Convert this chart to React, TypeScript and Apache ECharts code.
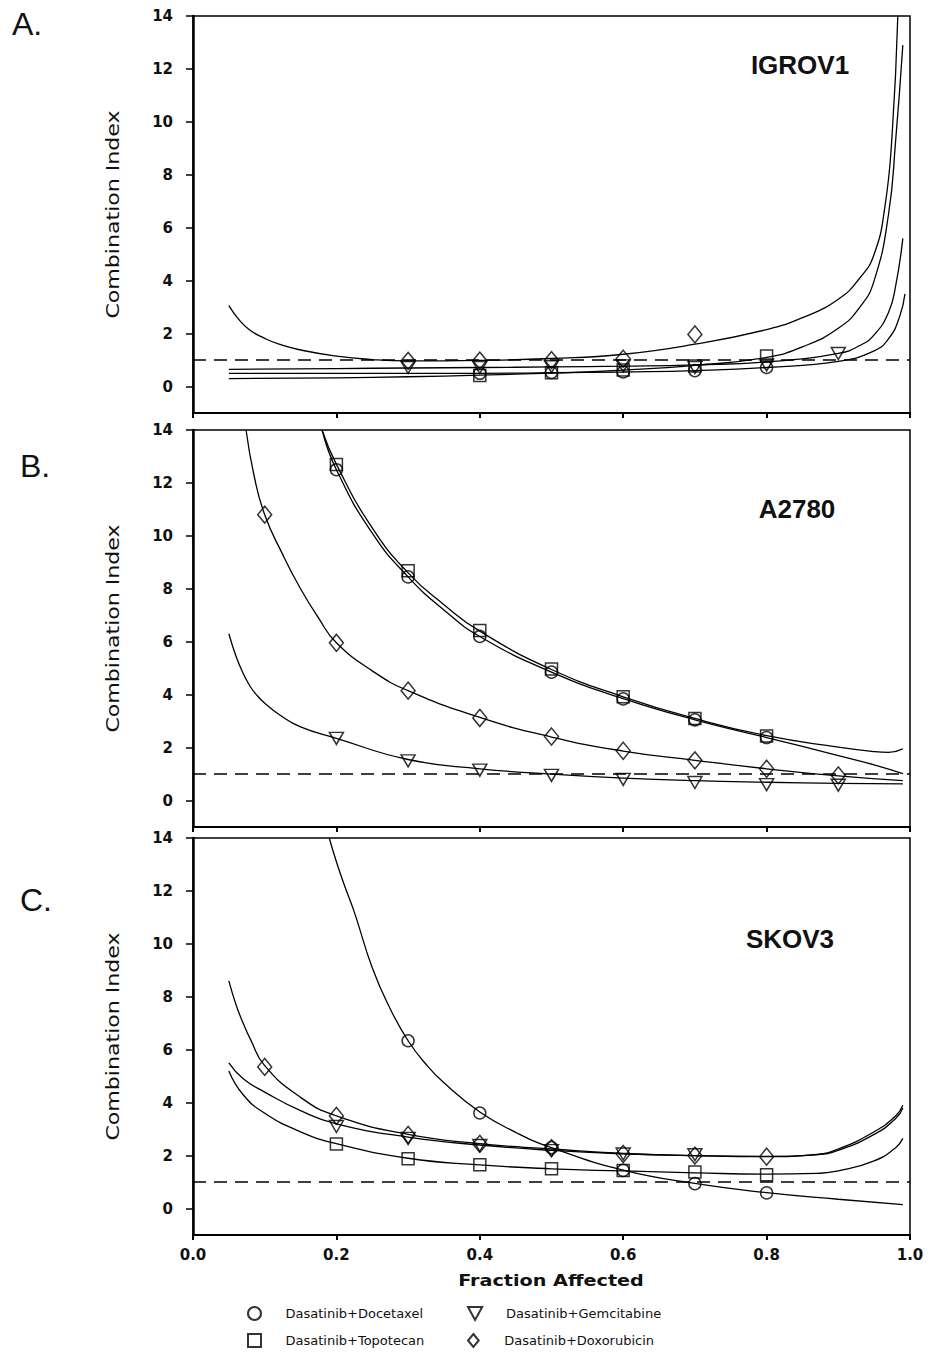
import React, { useEffect, useRef } from "react";
import * as echarts from "echarts";

// ---------- data ----------
const panelNames = ["IGROV1", "A2780", "SKOV3"];
const panelLetters = ["A.", "B.", "C."];
const drugNames = [
  "Dasatinib+Docetaxel",
  "Dasatinib+Topotecan",
  "Dasatinib+Gemcitabine",
  "Dasatinib+Doxorubicin",
];
const yTicks = [0, 2, 4, 6, 8, 10, 12, 14];
const additivityCI = 1;
const xAxisTitle = "Fraction Affected";
const yAxisTitle = "Combination Index";

// Panel A: IGROV1 (fraction affected, CI)
const aDocePts = [[0.4, 0.5], [0.5, 0.53], [0.6, 0.55], [0.7, 0.6], [0.8, 0.72]];
const aTopoPts = [[0.4, 0.42], [0.5, 0.52], [0.6, 0.62], [0.7, 0.78], [0.8, 1.15]];
const aGemPts = [[0.3, 0.72], [0.4, 0.72], [0.5, 0.75], [0.6, 0.78], [0.7, 0.72], [0.8, 0.82], [0.9, 1.25]];
const aDoxoPts = [[0.3, 0.97], [0.4, 0.98], [0.5, 1.0], [0.6, 1.05], [0.7, 1.97]];
const aDoceCurve = [[0.05, 0.5], [0.2, 0.5], [0.3, 0.5], [0.4, 0.5], [0.5, 0.52], [0.6, 0.55], [0.7, 0.6], [0.8, 0.72], [0.9, 0.95], [0.95, 1.35], [0.97, 1.8], [0.985, 2.6], [0.993, 3.5]];
const aTopoCurve = [[0.05, 0.3], [0.2, 0.33], [0.3, 0.37], [0.4, 0.43], [0.5, 0.51], [0.6, 0.62], [0.7, 0.8], [0.8, 1.1], [0.85, 1.5], [0.9, 2.2], [0.93, 3.0], [0.95, 4.0], [0.97, 6.5], [0.98, 9.3], [0.99, 12.9]];
const aGemCurve = [[0.05, 0.65], [0.2, 0.68], [0.3, 0.7], [0.4, 0.72], [0.5, 0.74], [0.6, 0.77], [0.7, 0.82], [0.8, 0.93], [0.9, 1.25], [0.93, 1.55], [0.95, 1.95], [0.97, 2.8], [0.98, 3.8], [0.99, 5.6]];
const aDoxoCurve = [[0.05, 3.06], [0.065, 2.5], [0.08, 2.12], [0.1, 1.82], [0.12, 1.6], [0.15, 1.38], [0.2, 1.15], [0.25, 1.02], [0.3, 0.97], [0.4, 0.99], [0.5, 1.06], [0.6, 1.22], [0.7, 1.6], [0.8, 2.15], [0.85, 2.6], [0.9, 3.3], [0.93, 4.1], [0.95, 5.0], [0.965, 6.8], [0.975, 9.5], [0.983, 14]];

// Panel B: A2780
const bDocePts = [[0.2, 12.5], [0.3, 8.45], [0.4, 6.2], [0.5, 4.85], [0.6, 3.84], [0.7, 3.05], [0.8, 2.38]];
const bTopoPts = [[0.2, 12.7], [0.3, 8.68], [0.4, 6.42], [0.5, 4.97], [0.6, 3.92], [0.7, 3.1], [0.8, 2.44]];
const bGemPts = [[0.2, 2.35], [0.3, 1.5], [0.4, 1.15], [0.5, 0.95], [0.6, 0.8], [0.7, 0.68], [0.8, 0.6], [0.9, 0.58]];
const bDoxoPts = [[0.1, 10.8], [0.2, 5.96], [0.3, 4.15], [0.4, 3.12], [0.5, 2.42], [0.6, 1.88], [0.7, 1.52], [0.8, 1.2], [0.9, 0.95]];
const bDoceCurve = [[0.18, 14], [0.2, 12.5], [0.25, 10.1], [0.3, 8.45], [0.35, 7.2], [0.4, 6.2], [0.5, 4.85], [0.6, 3.85], [0.7, 3.05], [0.8, 2.38], [0.9, 1.7], [0.95, 1.35], [0.99, 1.02]];
const bTopoCurve = [[0.18, 14], [0.2, 12.7], [0.25, 10.3], [0.3, 8.6], [0.35, 7.4], [0.4, 6.4], [0.5, 4.95], [0.6, 3.92], [0.7, 3.1], [0.8, 2.45], [0.9, 2.02], [0.95, 1.85], [0.97, 1.82], [0.99, 1.95]];
const bGemCurve = [[0.05, 6.3], [0.06, 5.45], [0.07, 4.8], [0.08, 4.3], [0.09, 3.95], [0.1, 3.68], [0.12, 3.25], [0.15, 2.78], [0.2, 2.35], [0.3, 1.55], [0.4, 1.2], [0.5, 1.0], [0.6, 0.85], [0.7, 0.75], [0.8, 0.69], [0.9, 0.65], [0.99, 0.63]];
const bDoxoCurve = [[0.074, 14], [0.085, 12.3], [0.1, 10.8], [0.125, 9.3], [0.15, 8.0], [0.175, 6.9], [0.2, 5.96], [0.25, 4.9], [0.3, 4.15], [0.4, 3.14], [0.5, 2.4], [0.6, 1.87], [0.7, 1.52], [0.8, 1.2], [0.9, 0.93], [0.99, 0.75]];

// Panel C: SKOV3
const cDocePts = [[0.3, 6.34], [0.4, 3.61], [0.5, 2.3], [0.6, 1.44], [0.7, 0.94], [0.8, 0.59]];
const cTopoPts = [[0.2, 2.44], [0.3, 1.88], [0.4, 1.65], [0.5, 1.5], [0.6, 1.44], [0.7, 1.38], [0.8, 1.28]];
const cGemPts = [[0.2, 3.1], [0.3, 2.65], [0.4, 2.38], [0.5, 2.19], [0.6, 2.06], [0.7, 2.03]];
const cDoxoPts = [[0.1, 5.35], [0.2, 3.5], [0.3, 2.78], [0.4, 2.44], [0.5, 2.28], [0.6, 2.06], [0.7, 2.0], [0.8, 1.96]];
const cDoceCurve = [[0.19, 14], [0.2, 13.1], [0.21, 12.3], [0.225, 11.2], [0.25, 9.1], [0.275, 7.55], [0.3, 6.34], [0.325, 5.45], [0.35, 4.75], [0.4, 3.65], [0.45, 2.88], [0.5, 2.3], [0.6, 1.45], [0.7, 0.95], [0.8, 0.6], [0.9, 0.35], [0.99, 0.15]];
const cTopoCurve = [[0.05, 5.2], [0.07, 4.3], [0.1, 3.6], [0.15, 2.9], [0.2, 2.45], [0.3, 1.9], [0.4, 1.65], [0.5, 1.5], [0.6, 1.42], [0.7, 1.35], [0.8, 1.3], [0.87, 1.33], [0.9, 1.42], [0.95, 1.8], [0.98, 2.3], [0.99, 2.65]];
const cGemCurve = [[0.05, 5.5], [0.07, 4.9], [0.1, 4.4], [0.15, 3.7], [0.2, 3.2], [0.3, 2.7], [0.4, 2.4], [0.5, 2.2], [0.6, 2.07], [0.7, 2.0], [0.8, 1.97], [0.87, 2.03], [0.9, 2.2], [0.95, 2.8], [0.98, 3.4], [0.99, 3.8]];
const cDoxoCurve = [[0.05, 8.6], [0.06, 7.7], [0.07, 7.0], [0.08, 6.4], [0.1, 5.4], [0.15, 4.2], [0.2, 3.5], [0.3, 2.8], [0.4, 2.45], [0.5, 2.25], [0.6, 2.08], [0.7, 2.0], [0.8, 1.96], [0.87, 2.05], [0.9, 2.25], [0.95, 2.9], [0.98, 3.5], [0.99, 3.9]];

const panelPoints = [
  [aDocePts, aTopoPts, aGemPts, aDoxoPts],
  [bDocePts, bTopoPts, bGemPts, bDoxoPts],
  [cDocePts, cTopoPts, cGemPts, cDoxoPts],
];
const panelCurves = [
  [aDoceCurve, aTopoCurve, aGemCurve, aDoxoCurve],
  [bDoceCurve, bTopoCurve, bGemCurve, bDoxoCurve],
  [cDoceCurve, cTopoCurve, cGemCurve, cDoxoCurve],
];

// ---------- styles ----------
const ARIAL = "'Liberation Sans', Arial, sans-serif";
const DEJAVU = "'DejaVu Sans', sans-serif";
const INK = "#111";
const gridTops = [16, 430, 838];
const gridLeft = 193;
const gridRight = 23;
const gridHeight = 397;

const symbols = [
  { symbol: "circle", size: 12 },
  { symbol: "path://M0,0L10,0L10,10L0,10Z", size: 12 },
  { symbol: "path://M0,0L12,0L6,11Z", size: [14, 12] },
  { symbol: "path://M7,0L14,8.5L7,17L0,8.5Z", size: [14, 17] },
];

const markerStyle = {
  color: "rgba(255,255,255,0)",
  borderColor: "#000",
  borderWidth: 1.5,
};

function buildOption() {
  const grid = gridTops.map((top) => ({
    left: gridLeft,
    right: gridRight,
    top,
    height: gridHeight,
    show: true,
    borderColor: "#000",
    borderWidth: 1.5,
    backgroundColor: "transparent",
  }));

  const xAxis = gridTops.map((_, i) => ({
    type: "value",
    gridIndex: i,
    min: 0,
    max: 1,
    interval: 0.2,
    axisLine: { show: true, onZero: false, lineStyle: { color: "#000", width: 2 } },
    axisTick: { show: true, inside: false, length: 5, lineStyle: { color: "#000", width: 2 } },
    axisLabel: {
      show: i === 2,
      margin: 12,
      formatter: (v: number) => v.toFixed(1),
      fontFamily: DEJAVU,
      fontWeight: "bold",
      fontSize: 15,
      color: INK,
    },
    splitLine: { show: false },
  }));

  const yAxis = gridTops.map((_, i) => ({
    type: "value",
    gridIndex: i,
    min: -1,
    max: 14,
    axisLine: { show: true, onZero: false, lineStyle: { color: "#000", width: 2.5 } },
    axisTick: { show: true, inside: false, length: 7, customValues: yTicks, lineStyle: { color: "#000", width: 1.5 } },
    axisLabel: {
      customValues: yTicks,
      margin: 20,
      fontFamily: DEJAVU,
      fontWeight: "bold",
      fontSize: 15,
      color: INK,
    },
    splitLine: { show: false },
  }));

  const series: any[] = [];
  gridTops.forEach((_, p) => {
    series.push({
      type: "line",
      name: "Additivity (CI = 1)",
      xAxisIndex: p,
      yAxisIndex: p,
      data: [[0, additivityCI], [1, additivityCI]],
      symbol: "none",
      lineStyle: { color: "#000", width: 1.4, type: [13, 8] },
      z: 1,
      silent: true,
    });
    drugNames.forEach((name, d) => {
      series.push({
        type: "line",
        name: name + " fit (" + panelNames[p] + ")",
        xAxisIndex: p,
        yAxisIndex: p,
        data: panelCurves[p][d],
        symbol: "none",
        smooth: 0.5,
        lineStyle: { color: "#000", width: 1.3 },
        z: 2,
      });
      series.push({
        type: "scatter",
        name,
        xAxisIndex: p,
        yAxisIndex: p,
        data: panelPoints[p][d],
        symbol: symbols[d].symbol,
        symbolSize: symbols[d].size,
        itemStyle: markerStyle,
        z: 3,
      });
    });
  });

  const legendSpots = [
    { name: drugNames[0], left: 247, top: 1306 },
    { name: drugNames[2], left: 467, top: 1306 },
    { name: drugNames[1], left: 247, top: 1333 },
    { name: drugNames[3], left: 467, top: 1333 },
  ];
  const legend = legendSpots.map((s) => ({
    data: [s.name],
    left: s.left,
    top: s.top,
    padding: 0,
    itemWidth: 52,
    itemHeight: 13,
    selectedMode: false,
    textStyle: { fontFamily: DEJAVU, fontSize: 13, color: INK },
  }));

  const titleCenters = [
    [800, 65],
    [797, 509],
    [790, 939],
  ];
  const letterSpots = [
    [12, 24],
    [20, 466],
    [20, 900],
  ];

  const graphic: any[] = [];
  gridTops.forEach((top, i) => {
    graphic.push({
      type: "text",
      x: letterSpots[i][0],
      y: letterSpots[i][1],
      style: {
        text: panelLetters[i],
        font: `32px ${ARIAL}`,
        fill: INK,
        textAlign: "left",
        align: "left",
        textVerticalAlign: "middle",
        verticalAlign: "middle",
      },
    });
    graphic.push({
      type: "text",
      x: titleCenters[i][0],
      y: titleCenters[i][1],
      style: {
        text: panelNames[i],
        font: `bold 26px ${ARIAL}`,
        fill: INK,
        textAlign: "center",
        align: "center",
        textVerticalAlign: "middle",
        verticalAlign: "middle",
      },
    });
    graphic.push({
      type: "text",
      x: 113,
      y: top + gridHeight / 2,
      rotation: Math.PI / 2,
      scaleX: 1.3,
      style: {
        text: yAxisTitle,
        font: `17px ${DEJAVU}`,
        fill: INK,
        textAlign: "center",
        align: "center",
        textVerticalAlign: "middle",
        verticalAlign: "middle",
      },
    });
  });
  graphic.push({
    type: "text",
    x: 551,
    y: 1281,
    scaleX: 1.2,
    style: {
      text: xAxisTitle,
      font: `bold 16px ${DEJAVU}`,
      fill: INK,
      textAlign: "center",
      align: "center",
      textVerticalAlign: "middle",
      verticalAlign: "middle",
    },
  });

  return {
    animation: false,
    backgroundColor: "#fff",
    grid,
    xAxis,
    yAxis,
    series,
    legend,
    graphic,
  };
}

export default function App() {
  const ref = useRef<HTMLDivElement>(null);
  useEffect(() => {
    if (!ref.current) return;
    const chart = echarts.init(ref.current, undefined, { renderer: "svg" });
    chart.setOption(buildOption() as any);
    return () => chart.dispose();
  }, []);
  return (
    <div
      ref={ref}
      style={{ position: "fixed", left: 0, top: 0, width: 933, height: 1353, background: "#fff" }}
    />
  );
}
